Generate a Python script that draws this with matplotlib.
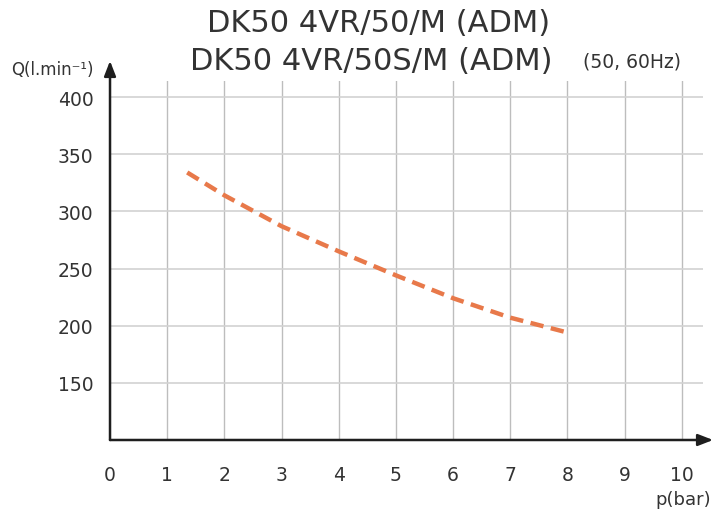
import matplotlib
matplotlib.use("Agg")
from matplotlib import pyplot as plt

# data
pressure_bar = [1.35, 2, 3, 4, 5, 6, 7, 8]
flow_lpm = [334, 314, 287, 265, 244, 224, 207, 194]

x_ticks = list(range(0, 11))
y_ticks = [150, 200, 250, 300, 350, 400]

title_lines = ["DK50 4VR/50/M (ADM)", "DK50 4VR/50S/M (ADM)"]
freq_note = "(50, 60Hz)"
x_label = "p(bar)"
y_label = "Q(l.min\u207b\u00b9)"

plt.rcParams['font.family'] = ['DejaVu Sans']
TEXT = '#333333'

fig = plt.figure(figsize=(7.13, 5.10), dpi=100)
ax = fig.add_axes([0.1543, 0.1353, 0.8317, 0.7039])

ax.plot(pressure_bar, flow_lpm, color='#e8794a', lw=3.2, dashes=(3.0, 1.7),
        solid_capstyle='butt', dash_capstyle='butt', zorder=3)

ax.set_xlim(0, 10.37)
ax.set_ylim(100, 414)
ax.set_xticks(x_ticks)
ax.set_yticks(y_ticks)
ax.set_xticklabels([str(t) for t in x_ticks], fontsize=13.5, color=TEXT)
ax.set_yticklabels([str(t) for t in y_ticks], fontsize=13.5, color=TEXT)
ax.tick_params(length=0, pad=12)
ax.tick_params(axis='x', pad=18)

for x in x_ticks[1:]:
    ax.axvline(x, color='#bdbdbd', lw=1.0, zorder=1)
for y in y_ticks:
    ax.axhline(y, color='#d2d2d2', lw=1.2, zorder=1)

for s in ax.spines.values():
    s.set_visible(False)

# axis arrows
arrow = dict(arrowstyle='-|>,head_length=0.9,head_width=0.35', color='#1e1e1e',
             lw=1.8, shrinkA=0, shrinkB=0)
ax.annotate('', xy=(0, 1.056), xytext=(0, 0), xycoords='axes fraction',
            textcoords='axes fraction', arrowprops=arrow, annotation_clip=False)
ax.annotate('', xy=(1.017, 0), xytext=(0, 0), xycoords='axes fraction',
            textcoords='axes fraction', arrowprops=arrow, annotation_clip=False)

fig.text(379 / 713, 1 - 24 / 510, title_lines[0], ha='center', va='center',
         fontsize=22, color=TEXT)
fig.text(371 / 713, 1 - 62 / 510, title_lines[1], ha='center', va='center',
         fontsize=22, color=TEXT)
fig.text(632 / 713, 1 - 62 / 510, freq_note, ha='center', va='center',
         fontsize=13.5, color=TEXT)
fig.text(52 / 713, 1 - 70 / 510, y_label, ha='center', va='center',
         fontsize=12, color=TEXT)
fig.text(711 / 713, 1 - 500 / 510, x_label, ha='right', va='center',
         fontsize=13, color=TEXT)

fig.savefig('out.png', dpi=100, facecolor='white')
